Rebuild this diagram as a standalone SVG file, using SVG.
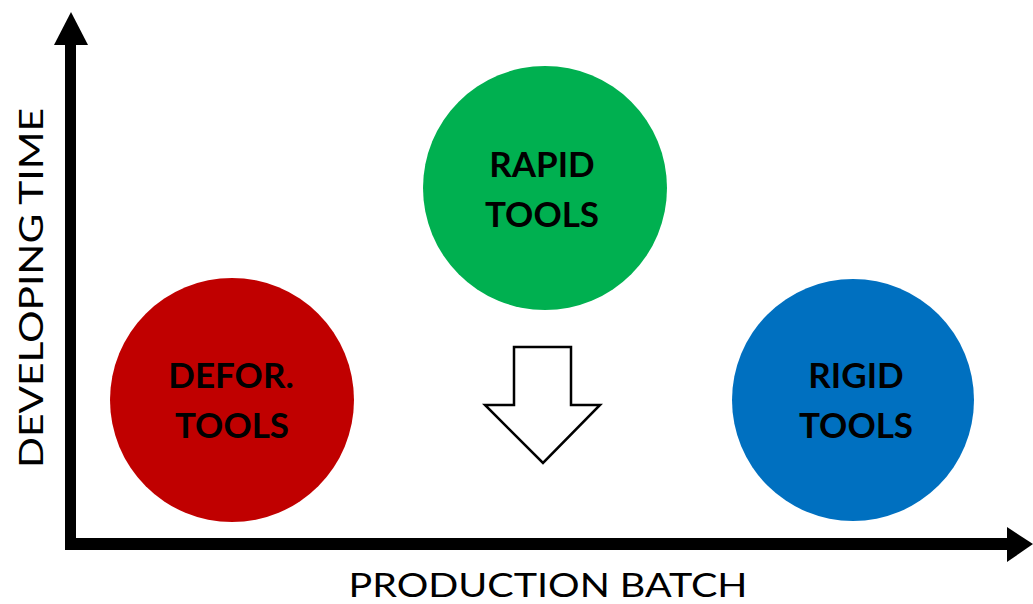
<svg xmlns="http://www.w3.org/2000/svg" width="1033" height="604" viewBox="0 0 1033 604">
  <style>
    .lbl { font-family: Lato, "Open Sans", "Liberation Sans", sans-serif; font-weight: bold; font-size: 35px; fill: #000; text-anchor: middle; }
    .axis { font-family: Lato, "Open Sans", "Liberation Sans", sans-serif; font-size: 33px; fill: #000; text-anchor: middle; }
    .arrow { fill: #fff; stroke: #000; stroke-width: 2.5; stroke-linejoin: miter; }
  </style>
  <rect width="1033" height="604" fill="#fff"/>
  <g id="connectors">
    <rect x="65" y="40" width="11" height="510" fill="#000"/>
    <polygon points="71,12 54,45 88,45" fill="#000"/>
    <rect x="65" y="538" width="945" height="12" fill="#000"/>
    <polygon points="1033,544 1007,527 1007,562" fill="#000"/>
  </g>
  <g id="axis-y-label">
    <text class="axis" transform="translate(43,288) rotate(-90)" textLength="360" lengthAdjust="spacingAndGlyphs" font-size="38">DEVELOPING TIME</text>
  </g>
  <g id="axis-x-label">
    <text class="axis" x="548" y="597" textLength="399" lengthAdjust="spacingAndGlyphs">PRODUCTION BATCH</text>
  </g>
  <g id="defor-tools">
    <circle cx="232" cy="400" r="122" fill="#C00000"/>
    <text class="lbl" x="231" y="388">DEFOR.</text>
    <text class="lbl" x="232" y="438">TOOLS</text>
  </g>
  <g id="rapid-tools">
    <circle cx="545" cy="188" r="122" fill="#00B050"/>
    <text class="lbl" x="542" y="177">RAPID</text>
    <text class="lbl" x="542" y="227">TOOLS</text>
  </g>
  <g id="rigid-tools">
    <circle cx="853" cy="400" r="121" fill="#0070C0"/>
    <text class="lbl" x="856" y="388">RIGID</text>
    <text class="lbl" x="856" y="438">TOOLS</text>
  </g>
  <g id="down-arrow">
    <polygon class="arrow" points="514,347 571,347 571,405 600,405 543,463 485,405 514,405"/>
  </g>
</svg>
